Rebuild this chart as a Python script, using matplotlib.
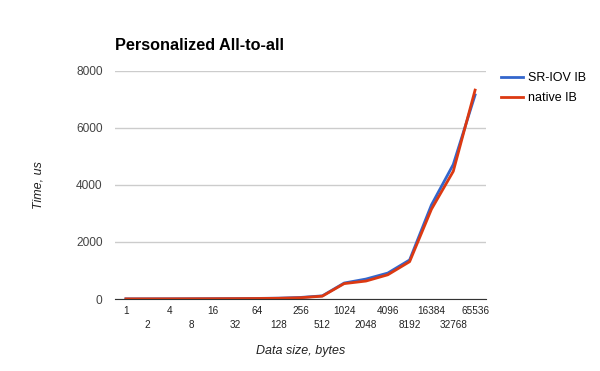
import matplotlib
matplotlib.use("Agg")
from matplotlib import pyplot as plt

sizes = ["1", "2", "4", "8", "16", "32", "64", "128", "256", "512",
         "1024", "2048", "4096", "8192", "16384", "32768", "65536"]
sriov = [5, 6, 7, 9, 12, 15, 20, 30, 55, 110, 560, 700, 910, 1370, 3300, 4720, 7160]
native = [4, 5, 6, 8, 10, 13, 17, 25, 45, 100, 540, 630, 850, 1310, 3150, 4480, 7330]

plt.rcParams['font.family'] = ['Liberation Sans', 'DejaVu Sans']

fig = plt.figure(figsize=(6, 3.71), dpi=100)
ax = fig.add_axes([115/600, 72/371, 371/600, 228/371])

x = list(range(len(sizes)))
ax.plot(x, sriov, color='#3366cc', lw=2, label='SR-IOV IB')
ax.plot(x, native, color='#dc3912', lw=2, label='native IB')

ax.set_xlim(-0.5, len(sizes) - 0.5)
ax.set_ylim(0, 8000)
ax.set_yticks([0, 2000, 4000, 6000, 8000])
ax.tick_params(axis='y', length=0, labelsize=8.6, colors='#444444', pad=9)

# alternate rows for the category labels
ax.set_xticks(x[0::2])
ax.set_xticklabels(sizes[0::2])
ax.set_xticks(x[1::2], minor=True)
ax.set_xticklabels(sizes[1::2], minor=True)
ax.tick_params(axis='x', which='major', length=0, labelsize=7.2, colors='#222222', pad=5)
ax.tick_params(axis='x', which='minor', length=0, labelsize=7.2, colors='#222222', pad=15)

ax.grid(axis='y', color='#cccccc', lw=1)
ax.set_axisbelow(True)
for s in ['top', 'right', 'left']:
    ax.spines[s].set_visible(False)
ax.spines['bottom'].set_color('#333333')

ax.set_ylabel("Time, us", fontsize=9, style='italic', color='#222222', labelpad=23)
ax.set_xlabel("Data size, bytes", fontsize=9, style='italic', color='#222222')
ax.xaxis.set_label_coords(0.5, -46/228)
fig.text(115/600, 1 - 45/371, "Personalized All-to-all", fontsize=11.7, fontweight='bold',
         va='center', ha='left')

ax.legend(loc='upper left', bbox_to_anchor=(1.01, 1.043), frameon=False, fontsize=9,
          handlelength=1.8, handletextpad=0.4, labelspacing=0.62)

plt.savefig("out.png", dpi=100)
